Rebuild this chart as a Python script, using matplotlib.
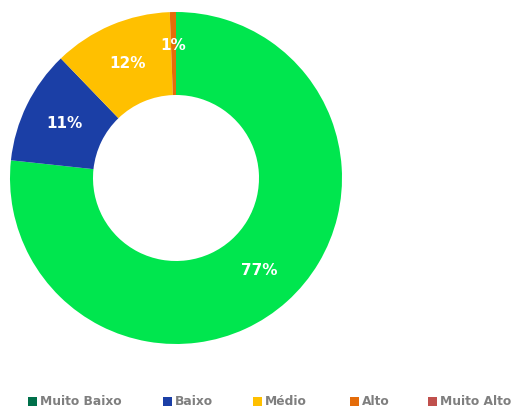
import matplotlib.pyplot as plt
from matplotlib.patches import Rectangle
import numpy as np

categories = ["Muito Baixo", "Baixo", "Médio", "Alto", "Muito Alto"]
values = [76.7, 11.1, 11.6, 0.6, 0.0]
labels = ["77%", "11%", "12%", "1%", ""]
label_r = [0.75, 0.75, 0.75, 0.8, 0.75]
slice_colors = ["#00E64E", "#1B3FA6", "#FFC000", "#E46C0A", "#C0504D"]
legend_colors = ["#00704A", "#1B3FA6", "#FFC000", "#E46C0A", "#C0504D"]
legend_x = [28, 163, 253, 350, 428]

fig = plt.figure(figsize=(5.15, 4.08), dpi=100)
ax = fig.add_axes([10 / 515, 64 / 408, 332 / 515, 332 / 408])

wedges, _ = ax.pie(values, colors=slice_colors, startangle=90, counterclock=False,
                   radius=1.0, wedgeprops=dict(width=0.5, linewidth=0))
ax.set_xlim(-1, 1)
ax.set_ylim(-1, 1)
ax.set_aspect("equal")
ax.axis("off")

for w, lab, r in zip(wedges, labels, label_r):
    if lab:
        mid = np.deg2rad((w.theta1 + w.theta2) / 2)
        ax.text(r * np.cos(mid), r * np.sin(mid), lab, color="white",
                fontsize=11, fontweight="bold", ha="center", va="center")

# legend drawn in figure pixels
for name, col, x in zip(categories, legend_colors, legend_x):
    fig.patches.append(Rectangle((x / 515, (408 - 406) / 408), 9 / 515, 9 / 408,
                                 transform=fig.transFigure, facecolor=col,
                                 edgecolor="none"))
    fig.text((x + 12) / 515, (408 - 401.5) / 408, name, color="#7F7F7F",
             fontsize=8.8, fontweight="bold", ha="left", va="center")

fig.savefig("out.png", dpi=100, facecolor="white")
